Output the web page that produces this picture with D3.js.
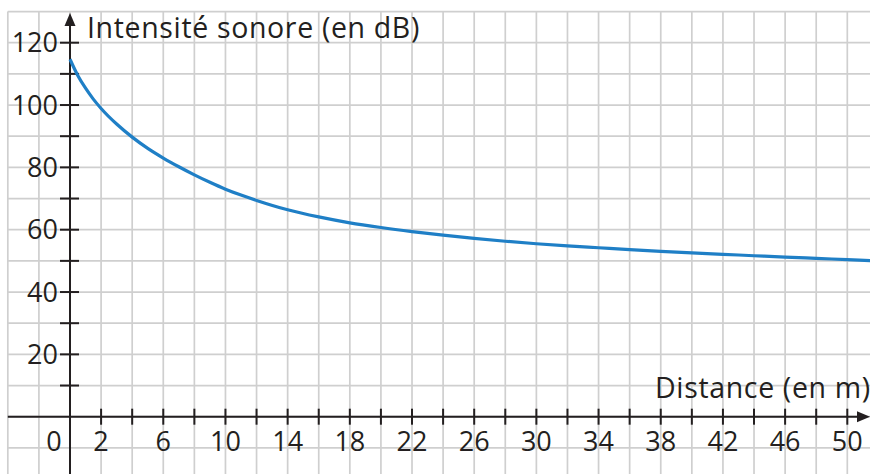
<!DOCTYPE html>
<html>
<head>
<meta charset="utf-8">
<script src="https://cdn.jsdelivr.net/npm/d3@7"></script>
<style>
    body { margin: 0; background: #fff; }
    svg { display: block; }
    .grid line { stroke: #cfcfcf; stroke-width: 1.7; }
    .axis-line { stroke: #231f20; stroke-width: 2; fill: none; }
    .tick-mark { stroke: #231f20; stroke-width: 2; }
    .label { font-family: "Open Sans", sans-serif; font-size: 27px; fill: #231f20; }
    .title { font-size: 28.5px; letter-spacing: 0.65px; }
</style>
</head>
<body>
<svg id="chart"></svg>
<script>
// distance (m) and sound level (dB)
const distances = [0, 0.5, 1, 1.5, 2, 3, 4, 5, 6, 7, 8, 9, 10, 11, 12, 14, 16, 18, 20, 22, 24, 26, 28, 30, 32, 34, 36, 38, 40, 42, 44, 46, 48, 50, 51.5]
const intensities = [114.7, 109.5, 105.4, 101.9, 98.9, 93.9, 89.7, 86.1, 83.0, 80.2, 77.6, 75.2, 73.0, 71.1, 69.4, 66.4, 64.1, 62.2, 60.7, 59.4, 58.25, 57.2, 56.3, 55.5, 54.8, 54.2, 53.6, 53.05, 52.55, 52.1, 51.65, 51.2, 50.8, 50.4, 50.1]

const xTickValues = d3.range(2, 51, 2)
const xLabelValues = [0, 2, 6, 10, 14, 18, 22, 26, 30, 34, 38, 42, 46, 50]
const yTickValues = d3.range(10, 121, 10)
const yLabelValues = [20, 40, 60, 80, 100, 120]

const xTitle = 'Distance (en m)'
const yTitle = 'Intensité sonore (en dB)'

class SoundChart {

    constructor(_config) {
        this.config = {
            parentElement: _config.parentElement,
            containerWidth: _config.containerWidth || 870,
            containerHeight: _config.containerHeight || 474
        }
        this.initVis()
    }

    initVis() {
        let vis = this

        vis.svg = d3.select(vis.config.parentElement)
            .attr('width', vis.config.containerWidth)
            .attr('height', vis.config.containerHeight)

        vis.xScale = d3.scaleLinear()
            .domain([0, 50])
            .range([70, 847.3])

        vis.yScale = d3.scaleLinear()
            .domain([0, 120])
            .range([416.7, 42.7])

        vis.renderVis()
    }

    renderVis() {
        let vis = this
        const W = vis.config.containerWidth
        const H = vis.config.containerHeight
        const x = vis.xScale, y = vis.yScale

        // squared paper, one cell = 2 m x 10 dB
        const gridX = d3.range(-4, x.invert(W) + 0.01, 2)
        const gridY = d3.range(-10, 131, 10)
        const left = x(-4), top = y(130)

        const grid = vis.svg.append('g').attr('class', 'grid')
        grid.selectAll('.v')
            .data(gridX)
            .join('line')
                .attr('class', 'v')
                .attr('x1', d => x(d)).attr('x2', d => x(d))
                .attr('y1', top).attr('y2', H)
        grid.selectAll('.h')
            .data(gridY)
            .join('line')
                .attr('class', 'h')
                .attr('x1', left).attr('x2', W)
                .attr('y1', d => y(d)).attr('y2', d => y(d))

        // axes
        vis.svg.append('line')
            .attr('class', 'axis-line')
            .attr('x1', left).attr('x2', W - 6)
            .attr('y1', y(0)).attr('y2', y(0))
        vis.svg.append('line')
            .attr('class', 'axis-line')
            .attr('x1', x(0)).attr('x2', x(0))
            .attr('y1', H).attr('y2', 20)

        vis.svg.append('path')
            .attr('fill', '#231f20')
            .attr('d', `M${x(0)},13 L${x(0) - 5.5},26 L${x(0) + 5.5},26 Z`)
        vis.svg.append('path')
            .attr('fill', '#231f20')
            .attr('d', `M${W},${y(0)} L${W - 13},${y(0) - 5.5} L${W - 13},${y(0) + 5.5} Z`)

        vis.svg.selectAll('.xtick')
            .data(xTickValues)
            .join('line')
                .attr('class', 'tick-mark xtick')
                .attr('x1', d => x(d)).attr('x2', d => x(d))
                .attr('y1', y(0) - 8).attr('y2', y(0) + 8)
        vis.svg.selectAll('.ytick')
            .data(yTickValues)
            .join('line')
                .attr('class', 'tick-mark ytick')
                .attr('x1', x(0) - 10).attr('x2', x(0) + 9)
                .attr('y1', d => y(d)).attr('y2', d => y(d))

        vis.svg.selectAll('.xlabel')
            .data(xLabelValues)
            .join('text')
                .attr('class', 'label xlabel')
                .attr('x', d => d === 0 ? x(d) - 16 : x(d))
                .attr('y', 451)
                .attr('text-anchor', 'middle')
                .text(d => d)
        vis.svg.selectAll('.ylabel')
            .data(yLabelValues)
            .join('text')
                .attr('class', 'label ylabel')
                .attr('x', x(0) - 12)
                .attr('y', d => y(d))
                .attr('dy', '0.36em')
                .attr('text-anchor', 'end')
                .text(d => d)

        vis.svg.append('text')
            .attr('class', 'label title')
            .attr('x', 87).attr('y', 37.5)
            .text(yTitle)
        vis.svg.append('text')
            .attr('class', 'label title')
            .attr('x', 655).attr('y', 398)
            .text(xTitle)

        // the curve
        const line = d3.line()
            .x((d, i) => x(d))
            .y((d, i) => y(intensities[i]))
            .curve(d3.curveMonotoneX)

        vis.svg.append('path')
            .datum(distances)
            .attr('fill', 'none')
            .attr('stroke', '#1f7fc6')
            .attr('stroke-width', 3.2)
            .attr('d', line)
    }
}

new SoundChart({ parentElement: '#chart' })
</script>
</body>
</html>
